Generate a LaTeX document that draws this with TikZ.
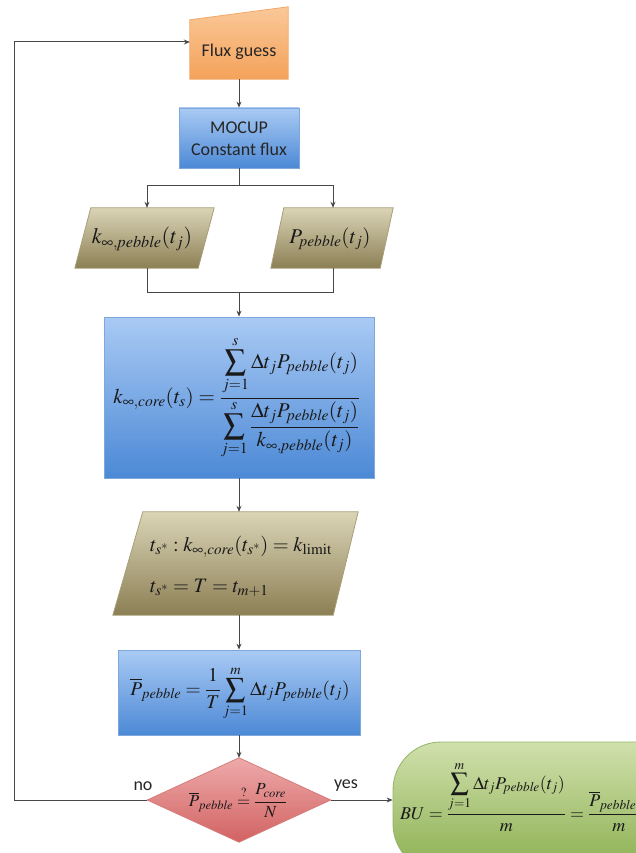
\documentclass[tikz,border=0pt]{standalone}
\usepackage{mathptmx}
\usepackage[no-math]{fontspec}
\setmainfont{Carlito}
\usetikzlibrary{arrows.meta}

\definecolor{orangeTop}{HTML}{FAC898}
\definecolor{orangeBot}{HTML}{F4A25A}
\definecolor{orangeEdge}{HTML}{F2A868}
\definecolor{blueTop}{HTML}{A9CAF4}
\definecolor{blueBot}{HTML}{4C89D6}
\definecolor{blueEdge}{HTML}{7FA8DA}
\definecolor{khakiTop}{HTML}{DAD4B6}
\definecolor{khakiBot}{HTML}{8C7F54}
\definecolor{khakiEdge}{HTML}{A89F7A}
\definecolor{redTop}{HTML}{EEAAAA}
\definecolor{redBot}{HTML}{D26262}
\definecolor{redEdge}{HTML}{D67C7C}
\definecolor{greenTop}{HTML}{D0E0AC}
\definecolor{greenBot}{HTML}{8BAF50}
\definecolor{greenEdge}{HTML}{93B468}

\begin{document}
\begin{tikzpicture}[x=1pt,y=-1pt,
  conn/.style={draw=black!72, line width=1pt},
  arr/.style={conn,-{Stealth[length=6pt,width=5pt]}},
  lbl/.style={font=\fontsize{18}{21}\selectfont, text=black!85},
  frame/.style={rectangle, inner sep=0pt},
  bluebox/.style={rectangle, draw=blueEdge, line width=0.8pt, top color=blueTop, bottom color=blueBot, inner sep=0pt},
  datafill/.style={draw=khakiEdge, line width=0.8pt, top color=khakiTop, bottom color=khakiBot},
  decfill/.style={draw=redEdge, line width=0.8pt, top color=redTop, bottom color=redBot},
  terminal/.style={rectangle, rounded corners=48pt, draw=greenEdge, line width=0.8pt,
    top color=greenTop, bottom color=greenBot, inner sep=0pt},
  eq/.style={inner sep=0pt, text=black!90},
]
\useasboundingbox (0,0) rectangle (636,853);
\begin{scope}
\clip (0,0) rectangle (636,853);

% ---- flux guess (manual input shape)
\node[frame, minimum width=98pt, minimum height=72pt] (flux) at (239,43) {};
\shade[top color=orangeTop, bottom color=orangeBot, draw=orangeEdge, line width=0.8pt]
  (flux.south west) -- (flux.south east) -- (flux.north east)
  -- ([yshift=-13pt]flux.north west) -- cycle;
\node[lbl] (fluxtext) at (239,52) {Flux guess};

% ---- MOCUP step
\node[bluebox, minimum width=120pt, minimum height=60pt] (mocup) at (239,138) {};
\node[lbl, align=center, font=\fontsize{18}{22}\selectfont] (mocuptext) at (239,139) {MOCUP\\Constant flux};

% ---- pebble data (parallelograms)
\node[frame, minimum width=139pt, minimum height=60pt] (kpeb) at (144.5,238) {};
\shade[datafill] (kpeb.south west) -- ([xshift=-16pt]kpeb.south east) -- (kpeb.north east)
  -- ([xshift=16pt]kpeb.north west) -- cycle;
\node[eq, font=\fontsize{22}{26}\selectfont] (kpebtext) at (142,239) {$k_{\infty,\mathit{pebble}}(t_j)$};

\node[frame, minimum width=122pt, minimum height=60pt] (ppeb) at (332,238) {};
\shade[datafill] (ppeb.south west) -- ([xshift=-13pt]ppeb.south east) -- (ppeb.north east)
  -- ([xshift=13pt]ppeb.north west) -- cycle;
\node[eq, font=\fontsize{21}{25}\selectfont] (ppebtext) at (330,239) {$P_{\mathit{pebble}}(t_j)$};

% ---- core multiplication factor
\node[bluebox, minimum width=270pt, minimum height=161pt] (kcore) at (239,397.5) {};
\node[eq, font=\fontsize{21}{25}\selectfont] (kcoretext) at (237,398) {$\displaystyle
  k_{\infty,\mathit{core}}(t_s)=\frac{\displaystyle\sum_{j=1}^{s}\Delta t_j P_{\mathit{pebble}}(t_j)}
  {\displaystyle\sum_{j=1}^{s}\frac{\Delta t_j P_{\mathit{pebble}}(t_j)}{k_{\infty,\mathit{pebble}}(t_j)}}$};

% ---- end of cycle
\node[frame, minimum width=245pt, minimum height=103pt] (tend) at (235.5,563.5) {};
\shade[datafill] (tend.south west) -- ([xshift=-25pt]tend.south east) -- (tend.north east)
  -- ([xshift=30pt]tend.north west) -- cycle;
\node[eq, font=\fontsize{20.5}{24}\selectfont, align=left] (tendtext) at (241,566) {$t_{s^*}:k_{\infty,\mathit{core}}(t_{s^*})=k_{\mathrm{limit}}$\\[17pt]$t_{s^*}=T=t_{m+1}$};

% ---- average pebble power
\node[bluebox, minimum width=242pt, minimum height=85pt] (pavg) at (239,692.5) {};
\node[eq, font=\fontsize{19.5}{23}\selectfont] (pavgtext) at (240,693) {$\displaystyle
  \overline{P}_{\mathit{pebble}}=\frac{1}{T}\sum_{j=1}^{m}\Delta t_j P_{\mathit{pebble}}(t_j)$};

% ---- convergence check (diamond)
\node[frame, minimum width=183pt, minimum height=84pt] (dec) at (239,800) {};
\shade[decfill] (dec.north) -- (dec.east) -- (dec.south) -- (dec.west) -- cycle;
\node[eq, font=\fontsize{17}{20}\selectfont] (dectext) at (238,801) {$\displaystyle
  \overline{P}_{\mathit{pebble}}\stackrel{?}{=}\frac{P_{\mathit{core}}}{N}$};

% ---- burnup result
\node[terminal, minimum width=300pt, minimum height=130pt] (bu) at (543,807) {};
\node[eq, font=\fontsize{18}{21}\selectfont, anchor=west] (butext) at (400,797) {$\displaystyle
  BU=\frac{\displaystyle\sum_{j=1}^{m}\Delta t_j P_{\mathit{pebble}}(t_j)}{m}
  =\frac{\overline{P}_{\mathit{pebble}}T}{m}$};

% ---- branch labels
\node[lbl] (nolbl) at (143,786) {no};
\node[lbl] (yeslbl) at (346,786) {yes};

% ---- connectors
\draw[arr] (flux.south) -- (mocup.north);
\draw[conn] (mocup.south) -- (mocup.south |- 0,185) coordinate (split);
\draw[arr] (split) -| ([xshift=2.5pt]kpeb.north);
\draw[arr] (split) -| ([xshift=1pt]ppeb.north);
\draw[conn] ([xshift=2.5pt]kpeb.south) |- (239,292) coordinate (join);
\draw[conn] ([xshift=1pt]ppeb.south) |- (join);
\draw[arr] (join) -- (kcore.north);
\draw[arr] (kcore.south) -- (tend.north -| kcore.south);
\draw[arr] (tend.south -| kcore.south) -- (pavg.north);
\draw[arr] (pavg.south) -- (dec.north);
\draw[arr] (dec.east) -- (dec.east -| bu.west);
\draw[arr] (dec.west) -- (14,800) coordinate (loop) |- ([yshift=1pt]flux.west);
\end{scope}
\end{tikzpicture}
\end{document}
